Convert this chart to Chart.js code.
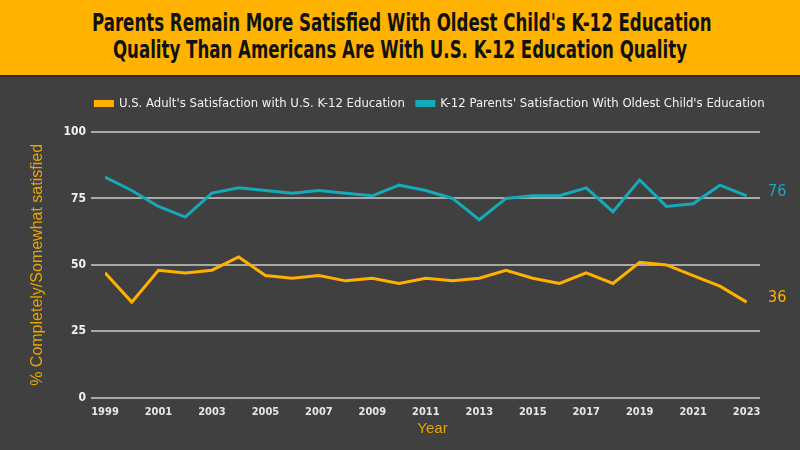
<!DOCTYPE html>
<html>
<head>
<meta charset="utf-8">
<script src="https://cdn.jsdelivr.net/npm/chart.js@4"></script>
<style>
  html, body { margin: 0; padding: 0; background: #404040; }
  #wrap { position: relative; width: 800px; height: 450px; overflow: hidden; }
  #banner {
    position: absolute; left: 0; top: 0; width: 800px; height: 77px;
    background: #FFB300; border-bottom: 2px solid #2a2a2a;
    font-family: 'DejaVu Sans Condensed', sans-serif;
    font-weight: bold; font-size: 24px; color: #111; text-align: center;
    line-height: 27px; padding-top: 10px; box-sizing: border-box;
  }
  #banner div { white-space: nowrap; transform: scaleX(0.77); transform-origin: 50% 50%; }
  canvas { position: absolute; left: 0; top: 0; }
</style>
</head>
<body>
<div id="wrap">
  <div id="banner">
    <div>Parents Remain More Satisfied With Oldest Child's K-12 Education</div>
    <div>Quality Than Americans Are With U.S. K-12 Education Quality</div>
  </div>
  <canvas id="chart" width="800" height="450"></canvas>
</div>
<script>
// Dados
const years = [1999, 2000, 2001, 2002, 2003, 2004, 2005, 2006, 2007, 2008, 2009, 2010, 2011,
               2012, 2013, 2014, 2015, 2016, 2017, 2018, 2019, 2020, 2021, 2022, 2023];
const adults = [47, 36, 48, 47, 48, 53, 46, 45, 46, 44, 45, 43, 45,
                44, 45, 48, 45, 43, 47, 43, 51, 50, 46, 42, 36];
const parents = [83, 78, 72, 68, 77, 79, 78, 77, 78, 77, 76, 80, 78,
                 75, 67, 75, 76, 76, 79, 70, 82, 72, 73, 80, 76];
const yTicks = [0, 25, 50, 75, 100];
const xTicks = years.filter(y => y % 2 === 1);

const ORANGE = '#FFB000';
const TEAL = '#15A9B9';
const narrow = "'DejaVu Sans Condensed', sans-serif";

// Legenda: mais espaço embaixo e deslocada para a direita
const legendTweak = {
    id: 'legendTweak',
    beforeInit(chart) {
        const lg = chart.legend;
        if (!lg) return;
        const fit = lg.fit.bind(lg);
        lg.fit = function () { fit(); this.height += 12; };
    },
    afterLayout(chart) {
        const lg = chart.legend;
        if (!lg) return;
        lg.left += 50;
        lg.right += 50;
    }
};

// Rótulos no fim das linhas
const endLabels = {
    id: 'endLabels',
    afterDatasetsDraw(chart) {
        const ctx = chart.ctx;
        const xs = chart.scales.x, ys = chart.scales.y;
        ctx.save();
        ctx.font = "16px " + narrow;
        ctx.textAlign = 'left';
        ctx.textBaseline = 'middle';
        chart.data.datasets.forEach(ds => {
            const last = ds.data[ds.data.length - 1];
            ctx.fillStyle = ds.borderColor;
            ctx.fillText(String(last.y), xs.right + 8, ys.getPixelForValue(last.y) - 4);
        });
        ctx.restore();
    }
};

new Chart(document.getElementById('chart'), {
    type: 'line',
    data: {
        datasets: [
            { label: "U.S. Adult's Satisfaction with U.S. K-12 Education",
              data: years.map((y, i) => ({ x: y, y: adults[i] })),
              borderColor: ORANGE, backgroundColor: ORANGE, borderWidth: 3, pointRadius: 0, tension: 0 },
            { label: "K-12 Parents' Satisfaction With Oldest Child's Education",
              data: years.map((y, i) => ({ x: y, y: parents[i] })),
              borderColor: TEAL, backgroundColor: TEAL, borderWidth: 3, pointRadius: 0, tension: 0 }
        ]
    },
    options: {
        responsive: false,
        animation: false,
        layout: { padding: { top: 85, right: 40, bottom: 12, left: 0 } },
        plugins: {
            legend: {
                labels: {
                    color: '#F2F2F2',
                    font: { family: narrow, size: 13 },
                    boxWidth: 17, boxHeight: 4, padding: 12
                }
            },
            tooltip: { enabled: false }
        },
        scales: {
            x: {
                type: 'linear', min: 1999, max: 2023.5,
                afterBuildTicks: axis => { axis.ticks = xTicks.map(v => ({ value: v })); },
                ticks: { color: '#E6E6E6', font: { family: narrow, size: 11, weight: 'bold' }, padding: 0,
                         callback: v => String(v), maxRotation: 0, autoSkip: false },
                grid: { display: false },
                border: { display: false },
                title: { display: true, text: 'Year', color: '#E8A400',
                         font: { family: 'Liberation Sans', size: 15 }, padding: { top: 1, bottom: 0 } }
            },
            y: {
                min: 0, max: 100,
                afterBuildTicks: axis => { axis.ticks = yTicks.map(v => ({ value: v })); },
                afterFit: s => { s.width = 105; },
                ticks: { color: '#F2F2F2', font: { family: narrow, size: 12, weight: 'bold' }, padding: 5 },
                grid: { color: '#A8A8A8', lineWidth: 2, tickLength: 14, tickColor: '#A8A8A8' },
                border: { display: false },
                title: { display: true, text: '% Completely/Somewhat satisfied', color: '#E8A400',
                         font: { family: 'Liberation Sans', size: 16 }, padding: { top: 28, bottom: 0 } }
            }
        }
    },
    plugins: [legendTweak, endLabels]
});
</script>
</body>
</html>
